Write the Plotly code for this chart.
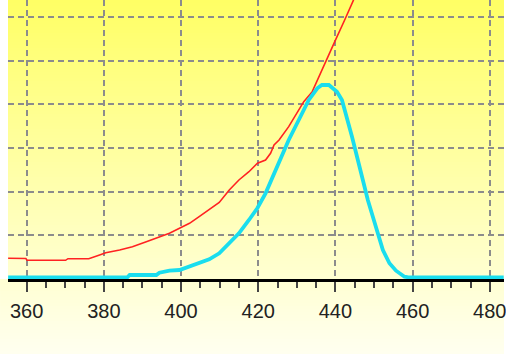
import plotly.graph_objects as go

# Data (x in nm, y in arbitrary grid units)
red_x = [355.2, 359.8, 360.1, 370.1, 370.7, 376.1, 378.9, 380.5, 384.1, 387.4, 391.0,
         393.6, 397.0, 399.6, 402.2, 404.7, 407.3, 409.9, 412.5, 415.0, 417.6, 419.8,
         421.9, 423.2, 424.1, 425.4, 427.9, 430.5, 431.8, 434.0, 435.7, 437.4, 439.8,
         442.4, 444.5, 446.0]
red_y = [0.474, 0.469, 0.428, 0.428, 0.465, 0.465, 0.55, 0.60, 0.664, 0.74, 0.854,
         0.93, 1.046, 1.161, 1.275, 1.427, 1.587, 1.752, 2.038, 2.267, 2.457, 2.65,
         2.725, 2.878, 3.068, 3.183, 3.488, 3.87, 4.06, 4.29, 4.63, 4.98, 5.43,
         5.93, 6.35, 6.65]

cyan_x = [355.2, 386.1, 386.7, 393.6, 394.4, 397.0, 399.6, 402.1, 404.7, 407.3, 409.9,
          412.5, 415.0, 417.6, 419.8, 421.9, 425.4, 427.9, 430.5, 433.1, 435.3, 436.5,
          438.3, 440.4, 441.7, 443.0, 444.3, 445.6, 447.0, 448.4, 449.7, 451.0, 452.3,
          454.0, 455.7, 457.9, 458.9, 483.6]
cyan_y = [0.039, 0.039, 0.092, 0.092, 0.144, 0.19, 0.206, 0.282, 0.36, 0.451, 0.589,
          0.817, 1.047, 1.351, 1.626, 1.962, 2.656, 3.183, 3.641, 4.099, 4.367, 4.442,
          4.442, 4.289, 4.099, 3.716, 3.258, 2.80, 2.267, 1.809, 1.427, 1.047, 0.664,
          0.36, 0.19, 0.053, 0.039, 0.039]

x_ticks = [360, 380, 400, 420, 440, 460, 480]
x_range = [355.17, 483.68]
y_range = [0, 6.389]

W, H = 506, 354
ML, MR, MT, MB = 8, 0, 0, 75
PH = H - MT - MB
PW = W - ML - MR

fig = go.Figure()
fig.add_trace(go.Scatter(x=red_x, y=red_y, mode="lines",
                         line=dict(color="#FF2222", width=1.6), showlegend=False))
fig.add_trace(go.Scatter(x=cyan_x, y=cyan_y, mode="lines",
                         line=dict(color="#1ADDEE", width=3.8), showlegend=False))

# gradient background via horizontal bands (pixel rows -> paper coords)
shapes = []
band = 3
for py in range(0, H, band):
    t = (py + band / 2) / H
    b = int(round(100 + 140 * t))
    col = f"rgb(255,255,{b})"
    y_top = 1 - (py - MT) / PH
    y_bot = 1 - (py + band - MT) / PH
    x0 = 0 if py < MT + PH else -ML / PW
    shapes.append(dict(type="rect", xref="paper", yref="paper",
                       x0=x0, x1=1, y0=y_bot, y1=y_top,
                       fillcolor=col, line=dict(width=0), layer="below"))

grid_style = dict(showgrid=True, gridcolor="#8C8C8C", gridwidth=2, griddash="6px,4px")

fig.update_layout(
    width=W, height=H,
    margin=dict(l=ML, r=MR, t=MT, b=MB, pad=0),
    paper_bgcolor="#FFFFFF",
    plot_bgcolor="rgba(0,0,0,0)",
    shapes=shapes,
    xaxis=dict(range=x_range, tickmode="array", tickvals=x_ticks,
               ticktext=[str(v) for v in x_ticks],
               showline=True, linecolor="#000000", linewidth=3,
               ticks="outside", ticklen=10, tickwidth=2, tickcolor="#444444",
               minor=dict(dtick=5, tick0=360, ticks="outside", ticklen=6, tickwidth=2,
                          tickcolor="#444444", showgrid=False),
               tickfont=dict(family="Liberation Sans, Arial", size=20, color="#222222"),
               ticklabeloverflow="allow", ticklabelstandoff=2,
               zeroline=False, fixedrange=True, **grid_style),
    yaxis=dict(range=y_range, dtick=1, tick0=0, showticklabels=False,
               zeroline=False, showline=False, ticks="", fixedrange=True, **grid_style),
)

fig.write_html("out.html")
